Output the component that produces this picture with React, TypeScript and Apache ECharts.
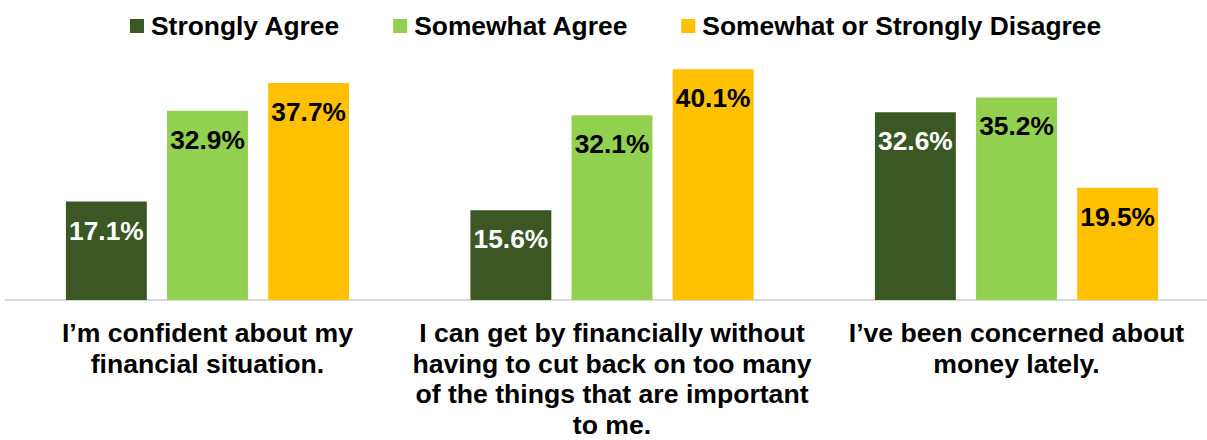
import React, { useEffect, useRef } from "react";
import * as echarts from "echarts";

const categories: string[] = [
  "I’m confident about my\nfinancial situation.",
  "I can get by financially without\nhaving to cut back on too many\nof the things that are important\nto me.",
  "I’ve been concerned about\nmoney lately.",
];
const seriesNames: string[] = ["Strongly Agree", "Somewhat Agree", "Somewhat or Strongly Disagree"];
const stronglyAgree: number[] = [17.1, 15.6, 32.6];
const somewhatAgree: number[] = [32.9, 32.1, 35.2];
const disagree: number[] = [37.7, 40.1, 19.5];
const colors: string[] = ["#3a5724", "#92d050", "#ffc000"];
const labelColors: string[] = ["#ffffff", "#000000", "#000000"];

const FONT = 'Arial, "Liberation Sans", sans-serif';

export default function App() {
  const ref = useRef<HTMLDivElement>(null);
  useEffect(() => {
    if (!ref.current) return;
    const chart = echarts.init(ref.current, null, { renderer: "svg" });
    const values = [stronglyAgree, somewhatAgree, disagree];
    chart.setOption({
      animation: false,
      color: colors,
      legend: {
        top: 8,
        left: 125,
        itemWidth: 14,
        itemHeight: 14,
        itemGap: 53,
        icon: "rect",
        textStyle: {
          fontFamily: FONT,
          fontSize: 26.4,
          fontWeight: "bold",
          color: "#000",
          padding: [0, 0, 0, 2],
        },
        data: seriesNames,
      },
      grid: { left: 5.25, width: 1213.5, top: 41, bottom: 133.5, containLabel: false },
      xAxis: {
        type: "category",
        data: categories,
        axisLine: { show: true, lineStyle: { color: "#d9d9d9", width: 2 } },
        axisTick: { show: false },
        axisLabel: {
          interval: 0,
          margin: 18,
          fontFamily: FONT,
          fontSize: 26.6,
          fontWeight: "bold",
          color: "#000",
          lineHeight: 30.5,
          align: "center",
        },
      },
      yAxis: {
        type: "value",
        min: 0,
        max: 45,
        show: false,
        splitLine: { show: false },
      },
      series: seriesNames.map((name, i) => ({
        name,
        type: "bar",
        data: values[i],
        barCategoryGap: "30%",
        barGap: "25%",
        itemStyle: { color: colors[i] },
        label: {
          show: true,
          position: "insideTop",
          distance: 16,
          formatter: (p: any) => `${p.value.toFixed(1)}%`,
          fontFamily: FONT,
          fontSize: 26.3,
          fontWeight: "bold",
          color: labelColors[i],
        },
      })),
    });
    return () => chart.dispose();
  }, []);
  return (
    <div
      style={{ position: "absolute", left: 0, top: 0, width: 1207, height: 440, overflow: "hidden", background: "#fff" }}
    >
      <div ref={ref} style={{ width: 1230, height: 440 }} />
    </div>
  );
}
